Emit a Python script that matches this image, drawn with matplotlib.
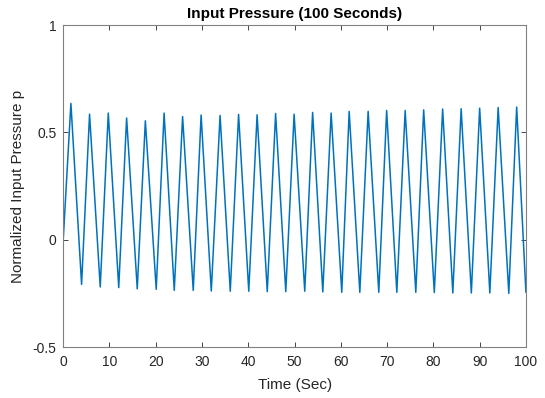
import matplotlib
matplotlib.use("Agg")
import matplotlib.pyplot as plt
import numpy as np

plt.rcParams['font.family'] = ['Liberation Sans', 'DejaVu Sans']

# Extrema
peak_t = [1.66, 5.69, 9.74, 13.7, 17.75, 21.8, 25.8, 29.8, 33.9, 37.9, 41.9, 45.9, 49.9,
          53.9, 57.9, 61.8, 65.9, 69.9, 73.9, 77.9, 82.0, 86.0, 90.0, 94.0, 98.0]
peak_v = [0.635, 0.585, 0.590, 0.567, 0.554, 0.590, 0.574, 0.581, 0.579, 0.584, 0.582, 0.588, 0.585,
          0.593, 0.590, 0.598, 0.598, 0.602, 0.602, 0.605, 0.609, 0.610, 0.613, 0.616, 0.618]
trough_t = [3.97, 8.0, 12.0, 16.0, 20.1, 24.0, 28.1, 32.0, 36.1, 40.1, 44.1, 48.1,
            52.2, 56.1, 60.2, 64.1, 68.2, 72.1, 76.2, 80.2, 84.2, 88.2, 92.2, 96.3]
trough_v = [-0.208, -0.220, -0.223, -0.229, -0.231, -0.236, -0.236, -0.239, -0.240, -0.240, -0.242, -0.242,
            -0.240, -0.243, -0.245, -0.245, -0.245, -0.245, -0.245, -0.246, -0.248, -0.248, -0.248, -0.250]
start_point = (0.0, 0.0)
end_point = (100.0, -0.245)

xticks = [0, 10, 20, 30, 40, 50, 60, 70, 80, 90, 100]
yticks = [-0.5, 0, 0.5, 1]
yticklabels = ['-0.5', '0', '0.5', '1']

# assemble series in time order
pts = [start_point] + list(zip(peak_t, peak_v)) + list(zip(trough_t, trough_v)) + [end_point]
pts.sort(key=lambda p: p[0])
t = [p[0] for p in pts]
v = [p[1] for p in pts]

fig = plt.figure(figsize=(5.45, 3.98), dpi=100)
ax = fig.add_axes([0.116, 0.128, 0.849, 0.809])
ax.plot(t, v, color='#0072BD', linewidth=1.1, solid_joinstyle='round', solid_capstyle='round')

ax.set_xlim(0, 100)
ax.set_ylim(-0.5, 1)
ax.set_xticks(xticks)
ax.set_yticks(yticks)
ax.set_yticklabels(yticklabels)
ax.tick_params(direction='in', top=True, right=True, length=3.5, width=0.6,
               colors='#262626', labelsize=10)
ax.tick_params(axis='x', pad=6)
ax.tick_params(axis='y', pad=5)
for s in ax.spines.values():
    s.set_color('#808080')
    s.set_linewidth(0.8)
ax.set_xlabel('Time (Sec)', fontsize=11, color='#262626', labelpad=6)
ax.set_ylabel('Normalized Input Pressure p', fontsize=11, color='#262626', labelpad=5)
ax.set_title('Input Pressure (100 Seconds)', fontsize=11, fontweight='bold', color='black', pad=5)

fig.savefig('out.png', dpi=100)
